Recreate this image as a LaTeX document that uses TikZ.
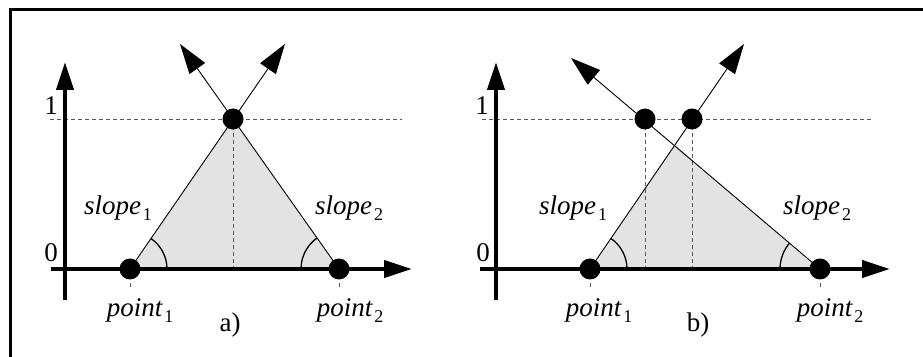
\documentclass[tikz,border=0pt]{standalone}
\usepackage{fontspec}
\setmainfont{Liberation Serif}
\usetikzlibrary{arrows.meta}
\newcommand\mylbl[2]{{\itshape #1}\kern2pt\raisebox{-6pt}{\fontsize{18}{18}\selectfont #2}}
\tikzset{
  dot/.style={circle,fill=black,inner sep=0pt,minimum size=21pt},
  axisline/.style={line width=4pt,-{Triangle[length=28pt,width=17pt]}},
  slopearrow/.style={line width=0.9pt,-{Triangle[length=30pt,width=19pt]}},
  guide/.style={dashed,dash pattern=on 4pt off 3pt,line width=0.8pt,draw=black!65},
  anglearc/.style={line width=1.3pt},
  lbl/.style={anchor=base,inner sep=0pt,font=\fontsize{27}{30}\selectfont},
  shade/.style={fill=black!11}
}
\begin{document}
\begin{tikzpicture}[x=1pt,y=1pt]
\useasboundingbox (0,0) rectangle (923,356);
% frame
\draw[line width=3pt] (10,-10) -- (10,346) -- (940,346);

% ================= panel a =================
\coordinate (aY0) at (65,56);
\coordinate (aY1) at (65,294);
\coordinate (aX0) at (51,87);
\coordinate (aX1) at (412,87);
\coordinate (aH0) at (50,237);
\coordinate (aH1) at (402,237);
\coordinate (aTipL) at (180,312);
\coordinate (aTipR) at (285,312);
\coordinate (aFoot) at (233,87);
\coordinate (aP1t) at (130,73);
\coordinate (aP1b) at (130,68);
\coordinate (aP2t) at (339,73);
\coordinate (aP2b) at (339,68);
\path (130,87) coordinate (aP1c) (339,87) coordinate (aP2c) (233,237) coordinate (aTc);
\fill[shade] (aP1c) -- (aTc) -- (aP2c) -- cycle;
\draw[guide] (aH0) -- (aH1);
\draw[guide] (aTc) -- (aFoot);
\draw[guide] (aP1t) -- (aP1b);
\draw[guide] (aP2t) -- (aP2b);
\draw[axisline] (aY0) -- (aY1);
\draw[axisline] (aX0) -- (aX1);
\draw[slopearrow] (aP1c) -- (aTipR);
\draw[slopearrow] (aP2c) -- (aTipL);
\draw[anglearc] ([shift={(37,0)}]aP1c) arc[start angle=0,end angle=55.5,radius=37];
\draw[anglearc] ([shift={(-38,0)}]aP2c) arc[start angle=180,end angle=125.25,radius=38];
\node[dot] (aP1) at (aP1c) {};
\node[dot] (aP2) at (aP2c) {};
\node[dot] (aT) at (aTc) {};
\node[lbl] (aone) at (51,241) {1};
\node[lbl] (azero) at (51,94) {0};
\node[lbl] (as1) at (118,141) {\mylbl{slope}{1}};
\node[lbl] (as2) at (349,141) {\mylbl{slope}{2}};
\node[lbl] (ap1) at (140,40) {\mylbl{point}{1}};
\node[lbl] (ap2) at (350,40) {\mylbl{point}{2}};
\node[lbl] (acap) at (230,25) {a)};

% ================= panel b =================
\coordinate (bY0) at (496,56);
\coordinate (bY1) at (496,294);
\coordinate (bX0) at (480,87);
\coordinate (bX1) at (890,87);
\coordinate (bH0) at (482,237);
\coordinate (bH1) at (873,237);
\coordinate (bTipL) at (571,298);
\coordinate (bTipR) at (744,312);
\coordinate (bFootA) at (645,87);
\coordinate (bFootB) at (692,87);
\coordinate (bP1t) at (590,73);
\coordinate (bP1b) at (590,68);
\coordinate (bP2t) at (820,73);
\coordinate (bP2b) at (820,68);
\path (590,87) coordinate (bP1c) (820,87) coordinate (bP2c)
      (645,237) coordinate (bAc) (692,237) coordinate (bBc)
      (674.7,211.5) coordinate (bI);
\fill[shade] (bP1c) -- (bI) -- (bP2c) -- cycle;
\draw[guide] (bH0) -- (bH1);
\draw[guide] (bAc) -- (bFootA);
\draw[guide] (bBc) -- (bFootB);
\draw[guide] (bP1t) -- (bP1b);
\draw[guide] (bP2t) -- (bP2b);
\draw[axisline] (bY0) -- (bY1);
\draw[axisline] (bX0) -- (bX1);
\draw[slopearrow] (bP1c) -- (bTipR);
\draw[slopearrow] (bP2c) -- (bTipL);
\draw[anglearc] ([shift={(37,0)}]bP1c) arc[start angle=0,end angle=55.8,radius=37];
\draw[anglearc] ([shift={(-40,0)}]bP2c) arc[start angle=180,end angle=139.4,radius=40];
\node[dot] (bP1) at (bP1c) {};
\node[dot] (bP2) at (bP2c) {};
\node[dot] (bA) at (bAc) {};
\node[dot] (bB) at (bBc) {};
\node[lbl] (bone) at (482,241) {1};
\node[lbl] (bzero) at (483,94) {0};
\node[lbl] (bs1) at (573,141) {\mylbl{slope}{1}};
\node[lbl] (bs2) at (817,141) {\mylbl{slope}{2}};
\node[lbl] (bp1) at (599,40) {\mylbl{point}{1}};
\node[lbl] (bp2) at (830,40) {\mylbl{point}{2}};
\node[lbl] (bcap) at (698,25) {b)};
\end{tikzpicture}
\end{document}
